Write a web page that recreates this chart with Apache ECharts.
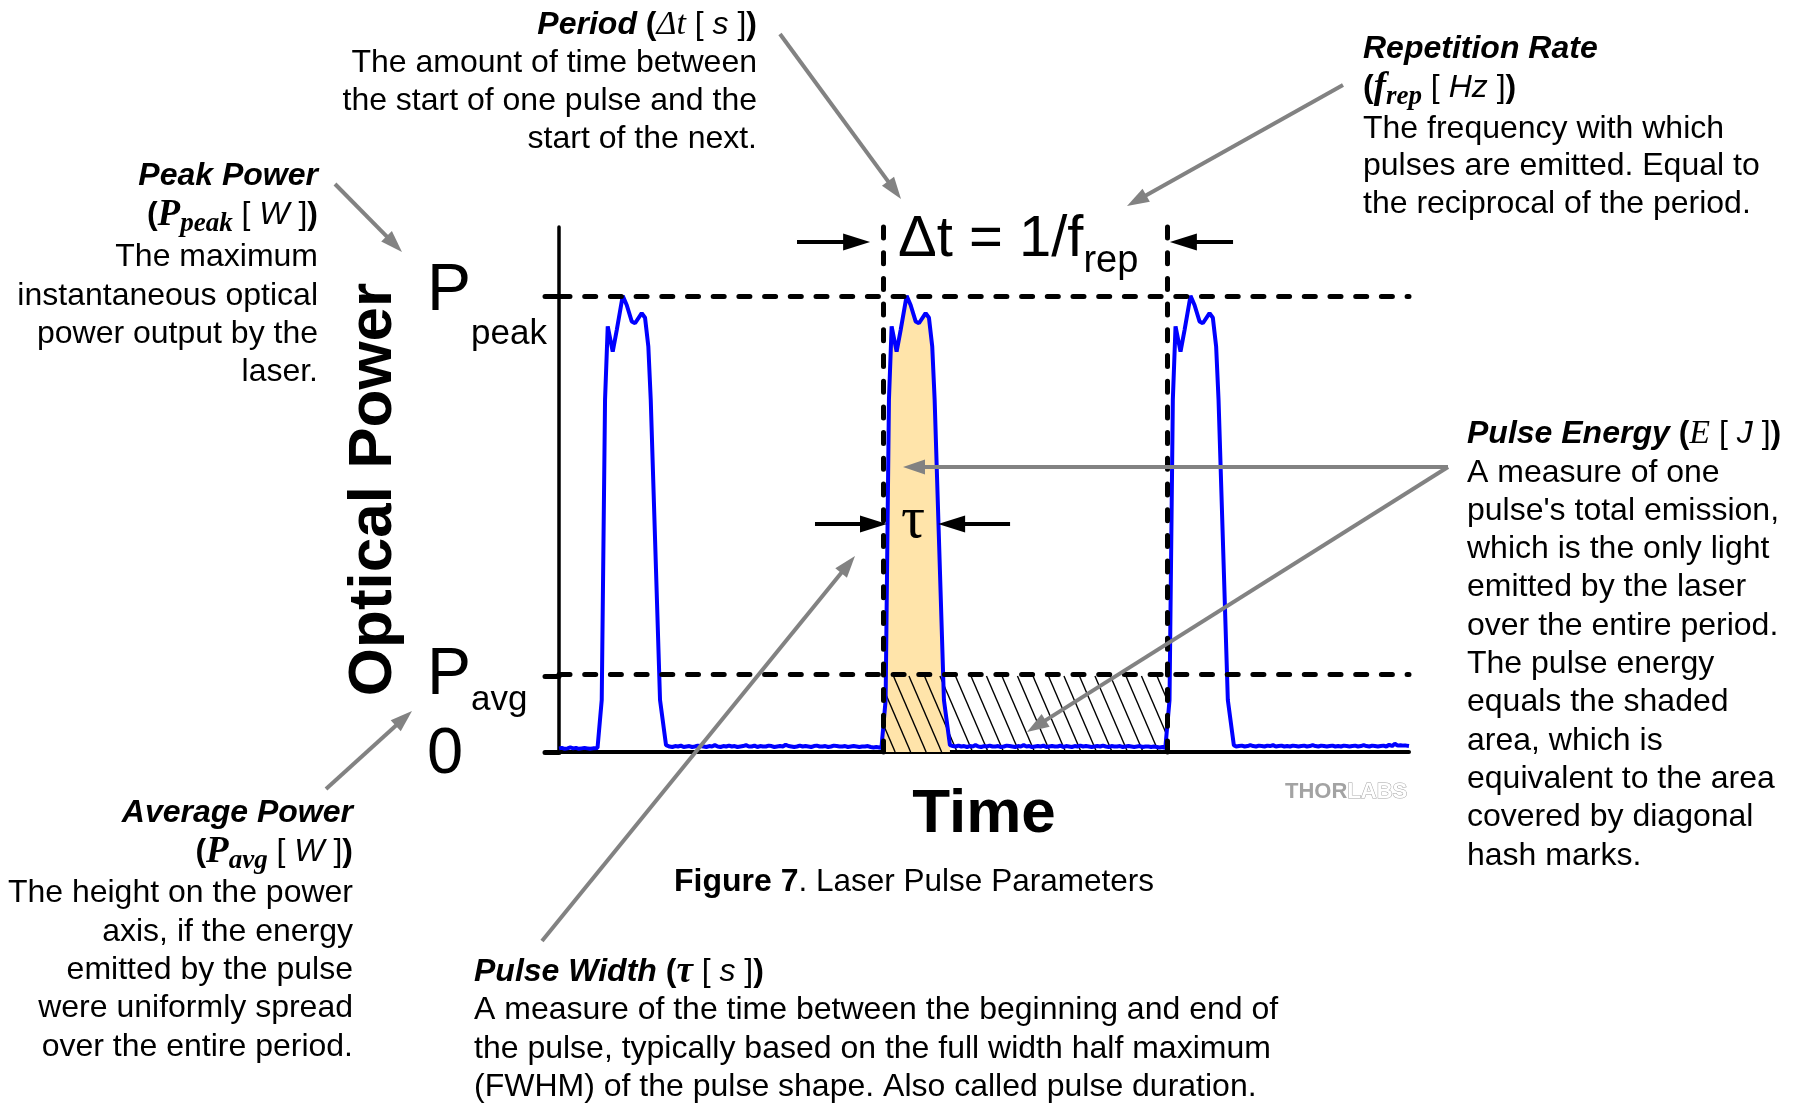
<!DOCTYPE html>
<html><head><meta charset="utf-8">
<script src="https://cdn.jsdelivr.net/npm/echarts@6/dist/echarts.min.js"></script>
<style>html,body{margin:0;padding:0;background:#fff}#c{width:1800px;height:1105px}</style>
</head><body><div id="c"></div>
<script>
// ---------------- data ----------------
// pulse shape (time offset from pulse onset, power relative to P_peak)
const pulseStarts = [13.6, 113.8, 214.0];
const pulseDt    = [0, 1.48, 2.65, 3.60, 5.36, 6.78, 8.89, 10.30, 12.07, 13.24, 15.60, 16.77, 17.93, 18.78, 22.06, 24.18];
const pulsePower = [0.009, 0.114, 0.772, 0.933, 0.878, 0.925, 1.000, 0.980, 0.944, 0.940, 0.962, 0.952, 0.889, 0.772, 0.114, 0.015];
// baseline noise between pulses (one sample per time unit)
const noiseStarts = [0, 39, 139, 239];
const noise0 = [0.008,0.009,0.007,0.008,0.010,0.008,0.009,0.007,0.008,0.009,0.008,0.007,0.008];
const noise1 = [
 0.012,0.011,0.013,0.012,0.014,0.011,0.012,0.013,0.011,0.012,0.014,0.013,0.012,0.011,0.013,
 0.012,0.015,0.012,0.011,0.013,0.012,0.014,0.012,0.013,0.011,0.012,0.013,0.015,0.012,0.012,
 0.014,0.011,0.013,0.012,0.012,0.014,0.013,0.011,0.012,0.013,0.012,0.016,0.013,0.012,0.011,
 0.012,0.014,0.012,0.013,0.012,0.011,0.013,0.014,0.012,0.012,0.013,0.011,0.012,0.014,0.013,
 0.012,0.012,0.013,0.011,0.012,0.013,0.012,0.011,0.012,0.012,0.013,0.011,0.010,0.011,0.010];
const noise2 = [
 0.013,0.012,0.014,0.012,0.013,0.011,0.013,0.012,0.015,0.012,0.011,0.013,0.012,0.014,0.012,
 0.012,0.013,0.011,0.012,0.014,0.013,0.012,0.011,0.013,0.012,0.015,0.012,0.013,0.011,0.012,
 0.013,0.012,0.014,0.011,0.012,0.013,0.012,0.012,0.014,0.011,0.013,0.012,0.011,0.013,0.012,
 0.014,0.012,0.013,0.012,0.011,0.012,0.013,0.012,0.014,0.012,0.011,0.013,0.012,0.012,0.013,
 0.011,0.012,0.013,0.012,0.011,0.012,0.013,0.011,0.012,0.012,0.011,0.012,0.011,0.010,0.011];
const noise3 = [
 0.012,0.013,0.014,0.012,0.013,0.015,0.013,0.012,0.014,0.013,0.012,0.014,0.013,0.015,0.012,
 0.013,0.014,0.012,0.013,0.012,0.014,0.013,0.012,0.013,0.014,0.012,0.013,0.015,0.013,0.012,
 0.014,0.013,0.012,0.013,0.014,0.012,0.013,0.012,0.014,0.013,0.012,0.013,0.014,0.012,0.013,
 0.015,0.013,0.012,0.014,0.013,0.012,0.013,0.014,0.012,0.016,0.013,0.018,0.014,0.015,0.014,
 0.014,0.013];
const periodMarks = [114.4, 214.6];
const pPeak = 1.0;
const pAvg = 0.1667;
const yTickValues = [0, pAvg, pPeak];
const yTickLabels = ['0', 'avg', 'peak'];
const xAxisName = 'Time';
const yAxisName = 'Optical Power';

// ---------------- build series data ----------------
const noiseSegs = [noise0, noise1, noise2, noise3];
const pulses = pulseStarts.map(s => pulseDt.map((d, j) => [s + d, pulsePower[j]]));
const signal = [];
noiseSegs.forEach((seg, k) => {
  seg.forEach((v, i) => signal.push([noiseStarts[k] + i, v]));
  if (k < pulses.length) pulses[k].forEach(p => signal.push(p));
});
const energyPulse = pulses[1];

// ---------------- layout / annotation config ----------------
const SANS = "'Liberation Sans', Arial, sans-serif";
const SERIF = "'Liberation Serif', 'Times New Roman', serif";
const GRAY = '#828282';
// black arrows in data units: [x1, y1, x2(tip), y2(tip)]
const blackArrows = [[84.0, 1.118, 109.8, 1.118], [237.9, 1.118, 215.6, 1.118],
                     [90.35, 0.5, 115.76, 0.5], [159.2, 0.5, 133.8, 0.5]];

function arrowShapes(x1, y1, x2, y2, color, w, hl, hw, z) {
  const dx = x2 - x1, dy = y2 - y1, L = Math.hypot(dx, dy), ux = dx / L, uy = dy / L;
  const bx = x2 - ux * hl, by = y2 - uy * hl, px = -uy, py = ux;
  return [
    {type: 'line', z: z, shape: {x1: x1, y1: y1, x2: bx + ux * 3, y2: by + uy * 3}, style: {stroke: color, lineWidth: w}},
    {type: 'polygon', z: z, shape: {points: [[x2, y2], [bx + px * hw / 2, by + py * hw / 2], [bx - px * hw / 2, by - py * hw / 2]]}, style: {fill: color}}
  ];
}

const RICH = {
  n:    {fontSize: 32, fontFamily: SANS, fill: '#000', verticalAlign: 'middle'},
  b:    {fontSize: 32, fontFamily: SANS, fill: '#000', fontWeight: 'bold', verticalAlign: 'middle'},
  bi:   {fontSize: 32, fontFamily: SANS, fill: '#000', fontWeight: 'bold', fontStyle: 'italic', verticalAlign: 'middle'},
  i:    {fontSize: 32, fontFamily: SANS, fill: '#000', fontStyle: 'italic', verticalAlign: 'middle'},
  mi:   {fontSize: 34, fontFamily: SERIF, fill: '#000', fontStyle: 'italic', verticalAlign: 'middle'},
  mbi:  {fontSize: 37, fontFamily: SERIF, fill: '#000', fontStyle: 'italic', fontWeight: 'bold', verticalAlign: 'middle'},
  msub: {fontSize: 27, fontFamily: SERIF, fill: '#000', fontStyle: 'italic', fontWeight: 'bold', verticalAlign: 'middle', padding: [18, 0, 0, 0]}
};
function txt(x, y, align, text, extra) {
  return {type: 'text', x: x, y: y, z: 100,
    style: Object.assign({text: text, align: align, verticalAlign: 'middle', fontSize: 32, fontFamily: SANS, fill: '#000', rich: RICH}, extra || {})};
}
function block(x, align, ys, lines) {
  return lines.map((l, i) => txt(x, ys[i], align, l));
}

const graphics = [].concat(
  block(757, 'right', [25, 63.5, 101.5, 139], [
    '{bi|Period} {b|(}{mi|Δt}{n| [ }{i|s}{n| ]}{b|)}',
    'The amount of time between',
    'the start of one pulse and the',
    'start of the next.']),
  block(318, 'right', [176, 215, 257, 296, 334, 372], [
    '{bi|Peak Power}',
    '{b|(}{mbi|P}{msub|peak}{n| [ }{i|W}{n| ]}{b|)}',
    'The maximum',
    'instantaneous optical',
    'power output by the',
    'laser.']),
  block(1363, 'left', [49, 88, 129, 166, 204], [
    '{bi|Repetition Rate}',
    '{b|(}{mbi|f}{msub|rep}{n| [ }{i|Hz}{n| ]}{b|)}',
    'The frequency with which',
    'pulses are emitted. Equal to',
    'the reciprocal of the period.']),
  block(1467, 'left', [434, 473, 511, 549, 587, 626, 664, 702, 741, 779, 817, 856], [
    '{bi|Pulse Energy} {b|(}{mi|E}{n| [ }{i|J}{n| ]}{b|)}',
    'A measure of one',
    "pulse's total emission,",
    'which is the only light',
    'emitted by the laser',
    'over the entire period.',
    'The pulse energy',
    'equals the shaded',
    'area, which is',
    'equivalent to the area',
    'covered by diagonal',
    'hash marks.']),
  block(353, 'right', [813, 852, 893, 932, 970, 1008, 1047], [
    '{bi|Average Power}',
    '{b|(}{mbi|P}{msub|avg}{n| [ }{i|W}{n| ]}{b|)}',
    'The height on the power',
    'axis, if the energy',
    'emitted by the pulse',
    'were uniformly spread',
    'over the entire period.']),
  block(474, 'left', [972, 1010, 1049, 1087], [
    '{bi|Pulse Width} {b|(}{mbi|τ}{n| [ }{i|s}{n| ]}{b|)}',
    'A measure of the time between the beginning and end of',
    'the pulse, typically based on the full width half maximum',
    '(FWHM) of the pulse shape. Also called pulse duration.']),
  [txt(914, 882, 'center', '{b|Figure 7}. Laser Pulse Parameters', {fontSize: 31.5})],
  [txt(898, 240, 'left', '{m|Δt = 1/f}{s|rep}', {rich: {
      m: {fontSize: 58, fontFamily: SANS, fill: '#000', verticalAlign: 'middle'},
      s: {fontSize: 38, fontFamily: SANS, fill: '#000', verticalAlign: 'middle', padding: [44, 0, 0, 0]}}})],
  [txt(913, 521, 'center', 'τ', {fontSize: 60, fontFamily: SERIF})],
  [txt(1285, 792, 'left', '{a|THOR}{l|LABS}', {rich: {
      a: {fontSize: 22, fontFamily: SANS, fontWeight: 'bold', fill: '#a3a3a3', verticalAlign: 'middle'},
      l: {fontSize: 22, fontFamily: SANS, fontWeight: 'bold', fill: '#ffffff', stroke: '#a3a3a3', lineWidth: 1, verticalAlign: 'middle'}}})],
  arrowShapes(780, 34, 901, 199, GRAY, 4, 22, 15, 90),
  arrowShapes(1343, 85, 1127, 206, GRAY, 4, 22, 15, 90),
  arrowShapes(335, 184, 402, 252, GRAY, 4, 22, 15, 90),
  arrowShapes(326, 789, 412, 711, GRAY, 4, 22, 15, 90),
  arrowShapes(542, 941, 855, 556, GRAY, 4, 22, 15, 90),
  arrowShapes(1448, 467, 903, 467, GRAY, 4, 22, 15, 90),
  arrowShapes(1448, 467, 1027, 732, GRAY, 4, 22, 15, 90)
);

// ---------------- chart ----------------
const chart = echarts.init(document.getElementById('c'), null, {renderer: 'canvas'});
const option = {
  animation: false,
  backgroundColor: '#ffffff',
  textStyle: {fontFamily: SANS},
  grid: {left: 559, right: 391, top: 227, bottom: 353, containLabel: false, outerBoundsMode: 'none'},
  xAxis: {
    type: 'value', min: 0, max: 300,
    name: xAxisName, nameLocation: 'middle', nameGap: 32, nameMoveOverlap: false,
    nameTextStyle: {fontSize: 62, fontWeight: 'bold', color: '#000', fontFamily: SANS},
    axisLine: {show: true, onZero: true, lineStyle: {color: '#000', width: 4}},
    axisTick: {show: false}, axisLabel: {show: false}, splitLine: {show: false}
  },
  yAxis: {
    type: 'value', min: 0, max: 1.151,
    name: yAxisName, nameLocation: 'middle', nameGap: 154, nameMoveOverlap: false,
    nameTextStyle: {fontSize: 62, fontWeight: 'bold', color: '#000', fontFamily: SANS},
    axisLine: {show: true, lineStyle: {color: '#000', width: 3.5}},
    axisTick: {show: true, customValues: yTickValues, length: 14, lineStyle: {color: '#000', width: 5, cap: 'round'}},
    axisLabel: {
      show: true, customValues: yTickValues, align: 'left', margin: 132,
      formatter: function (v) {
        const k = yTickValues.findIndex(t => Math.abs(t - v) < 1e-6);
        if (k === 0) return '{z|' + yTickLabels[0] + '}';
        if (k === 1) return '{P2|P}{s2|' + yTickLabels[1] + '}';
        return '{P1|P}{s1|' + yTickLabels[2] + '}';
      },
      rich: {
        z:  {fontSize: 65, color: '#000', fontFamily: SANS, verticalAlign: 'middle', padding: [6, 0, 0, 0]},
        P1: {fontSize: 66, color: '#000', fontFamily: SANS, verticalAlign: 'middle', padding: [0, 0, 9, 0]},
        s1: {fontSize: 35, color: '#000', fontFamily: SANS, verticalAlign: 'middle', padding: [76, 0, 0, 0]},
        P2: {fontSize: 66, color: '#000', fontFamily: SANS, verticalAlign: 'middle'},
        s2: {fontSize: 35, color: '#000', fontFamily: SANS, verticalAlign: 'middle', padding: [48, 0, 0, 0]}
      }
    },
    splitLine: {show: false}
  },
  series: [
    {
      name: 'energyFill', type: 'line', data: energyPulse, symbol: 'none', silent: true, z: 1,
      lineStyle: {width: 0}, areaStyle: {color: '#FFE4AA', opacity: 1}
    },
    {
      name: 'hatch', type: 'custom', silent: true, z: 2,
      data: [[periodMarks[0], periodMarks[1], pAvg]],
      encode: {x: [0, 1], y: 2},
      renderItem: function (params, api) {
        const a = api.coord([api.value(0), 0]);
        const b = api.coord([api.value(1), api.value(2)]);
        const left = a[0], bottom = a[1], right = b[0], top = b[1];
        const h = bottom - top, dx = h * 0.43, step = 15.5;
        const children = [];
        let x0 = left + 12 - dx;
        while (x0 - step > left - dx) x0 -= step;
        for (; x0 < right; x0 += step) {
          let x1 = x0, y1 = top, x2 = x0 + dx, y2 = bottom;
          if (x1 < left) { const t = (left - x0) / dx; x1 = left; y1 = top + t * h; }
          if (x2 > right) { const t = (right - x0) / dx; x2 = right; y2 = top + t * h; }
          if (x2 <= x1) continue;
          children.push({type: 'line', shape: {x1: x1, y1: y1, x2: x2, y2: y2}, style: {stroke: '#000', lineWidth: 1.4}});
        }
        return {type: 'group', children: children};
      }
    },
    {
      name: 'signal', type: 'line', data: signal, symbol: 'none', z: 3, silent: true,
      lineStyle: {color: '#0000ff', width: 4}
    },
    {
      name: 'guides', type: 'line', data: [], z: 4,
      markLine: {
        silent: true, symbol: ['none', 'none'], label: {show: false},
        lineStyle: {color: '#000', width: 5, type: [11, 14.7], cap: 'round'},
        emphasis: {disabled: true},
        data: [{yAxis: pPeak}, {yAxis: pAvg}, {xAxis: periodMarks[0]}, {xAxis: periodMarks[1]}]
      }
    },
    {
      name: 'arrows', type: 'custom', silent: true, z: 5,
      data: blackArrows, encode: {x: [0, 2], y: [1, 3]},
      renderItem: function (params, api) {
        const p1 = api.coord([api.value(0), api.value(1)]);
        const p2 = api.coord([api.value(2), api.value(3)]);
        return {type: 'group', children: arrowShapes(p1[0], p1[1], p2[0], p2[1], '#000', 4, 27, 17, 5)};
      }
    }
  ],
  graphic: {elements: graphics}
};
chart.setOption(option);
</script>
</body></html>
